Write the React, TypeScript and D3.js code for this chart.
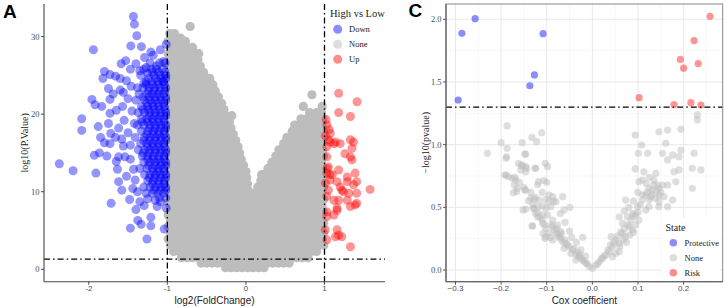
import React from "react";
import * as d3 from "d3";

// ---------- Panel A data (log2FC, -log10 p) ----------
const xTicksA = [-2, -1, 0, 1];
const yTicksA = [0, 10, 20, 30];
const fcCut = [-1, 1];
const pCut = 1.3;

const greyRowsA: [number, number[]][] = [
  [31.3, [-0.71]],
  [30.4, [-0.97, -0.91]],
  [29.8, [-0.83]],
  [29.4, [-0.99, -0.93, -0.87, -0.77]],
  [28.6, [-0.96, -0.89, -0.82, -0.75, -0.68]],
  [27.8, [-0.99, -0.92, -0.85, -0.78, -0.71, -0.64, -0.6]],
  [27.0, [-0.96, -0.89, -0.82, -0.75, -0.68, -0.61]],
  [26.2, [-0.99, -0.92, -0.85, -0.78, -0.71, -0.64, -0.58]],
  [25.4, [-0.96, -0.89, -0.82, -0.75, -0.68, -0.61, -0.54]],
  [24.6, [-0.99, -0.92, -0.85, -0.78, -0.71, -0.64, -0.57, -0.5, -0.46]],
  [23.8, [-0.96, -0.89, -0.82, -0.75, -0.68, -0.61, -0.54, -0.47, -0.42]],
  [23.0, [-0.99, -0.92, -0.85, -0.78, -0.71, -0.64, -0.57, -0.5, -0.43, -0.39]],
  [22.2, [-0.96, -0.89, -0.82, -0.75, -0.68, -0.61, -0.54, -0.47, -0.4, -0.35]],
  [21.4, [-0.99, -0.92, -0.85, -0.78, -0.71, -0.64, -0.57, -0.5, -0.43, -0.36, -0.31]],
  [20.6, [-0.96, -0.89, -0.82, -0.75, -0.68, -0.61, -0.54, -0.47, -0.4, -0.33, -0.28]],
  [19.8, [-0.99, -0.92, -0.85, -0.78, -0.71, -0.64, -0.57, -0.5, -0.43, -0.36, -0.29, -0.25, -0.18]],
  [19.0, [-0.96, -0.89, -0.82, -0.75, -0.68, -0.61, -0.54, -0.47, -0.4, -0.33, -0.26, -0.21]],
  [18.2, [-0.99, -0.92, -0.85, -0.78, -0.71, -0.64, -0.57, -0.5, -0.43, -0.36, -0.29, -0.22, -0.19]],
  [17.4, [-0.96, -0.89, -0.82, -0.75, -0.68, -0.61, -0.54, -0.47, -0.4, -0.33, -0.26, -0.19, -0.16]],
  [16.6, [-0.99, -0.92, -0.85, -0.78, -0.71, -0.64, -0.57, -0.5, -0.43, -0.36, -0.29, -0.22, -0.15, -0.13]],
  [15.8, [-0.96, -0.89, -0.82, -0.75, -0.68, -0.61, -0.54, -0.47, -0.4, -0.33, -0.26, -0.19, -0.12, -0.1]],
  [15.0, [-0.99, -0.92, -0.85, -0.78, -0.71, -0.64, -0.57, -0.5, -0.43, -0.36, -0.29, -0.22, -0.15, -0.08]],
  [14.2, [-0.96, -0.89, -0.82, -0.75, -0.68, -0.61, -0.54, -0.47, -0.4, -0.33, -0.26, -0.19, -0.12, -0.06]],
  [13.4, [-0.99, -0.92, -0.85, -0.78, -0.71, -0.64, -0.57, -0.5, -0.43, -0.36, -0.29, -0.22, -0.15, -0.08, -0.03]],
  [12.6, [-0.96, -0.89, -0.82, -0.75, -0.68, -0.61, -0.54, -0.47, -0.4, -0.33, -0.26, -0.19, -0.12, -0.05, 0.0]],
  [11.8, [-0.99, -0.92, -0.85, -0.78, -0.71, -0.64, -0.57, -0.5, -0.43, -0.36, -0.29, -0.22, -0.15, -0.08, -0.02, 0.01]],
  [11.0, [-0.96, -0.89, -0.82, -0.75, -0.68, -0.61, -0.54, -0.47, -0.4, -0.33, -0.26, -0.19, -0.12, -0.05, 0.02]],
  [10.2, [-0.99, -0.92, -0.85, -0.78, -0.71, -0.64, -0.57, -0.5, -0.43, -0.36, -0.29, -0.22, -0.15, -0.08, -0.02, 0.03]],
  [9.4, [-0.96, -0.89, -0.82, -0.75, -0.68, -0.61, -0.54, -0.47, -0.4, -0.33, -0.26, -0.19, -0.12, -0.05, 0.03]],
  [8.6, [-0.99, -0.92, -0.85, -0.78, -0.71, -0.64, -0.57, -0.5, -0.43, -0.36, -0.29, -0.22, -0.15, -0.08, -0.02, 0.04]],
  [7.8, [-0.96, -0.89, -0.82, -0.75, -0.68, -0.61, -0.54, -0.47, -0.4, -0.33, -0.26, -0.19, -0.12, -0.05, 0.02, 0.05]],
  [7.0, [-0.99, -0.92, -0.85, -0.78, -0.71, -0.64, -0.57, -0.5, -0.43, -0.36, -0.29, -0.22, -0.15, -0.08, -0.02, 0.05]],
  [6.2, [-0.96, -0.89, -0.82, -0.75, -0.68, -0.61, -0.54, -0.47, -0.4, -0.33, -0.26, -0.19, -0.12, -0.05, 0.02, 0.06]],
  [22.5, [0.84]],
  [21.0, [0.73, 0.97]],
  [20.2, [0.81, 0.9, 0.96]],
  [19.4, [0.7, 0.77, 0.84, 0.91, 0.98]],
  [18.6, [0.62, 0.69, 0.76, 0.83, 0.9, 0.97]],
  [17.8, [0.59, 0.66, 0.73, 0.8, 0.87, 0.94, 0.99]],
  [17.0, [0.52, 0.59, 0.66, 0.73, 0.8, 0.87, 0.94, 0.99]],
  [16.2, [0.48, 0.55, 0.62, 0.69, 0.76, 0.83, 0.9, 0.97]],
  [15.4, [0.42, 0.49, 0.56, 0.63, 0.7, 0.77, 0.84, 0.91, 0.98]],
  [14.6, [0.38, 0.45, 0.52, 0.59, 0.66, 0.73, 0.8, 0.87, 0.94, 0.99]],
  [13.8, [0.33, 0.4, 0.47, 0.54, 0.61, 0.68, 0.75, 0.82, 0.89, 0.96]],
  [13.0, [0.28, 0.35, 0.42, 0.49, 0.56, 0.63, 0.7, 0.77, 0.84, 0.91, 0.98]],
  [12.2, [0.2, 0.23, 0.3, 0.37, 0.44, 0.51, 0.58, 0.65, 0.72, 0.79, 0.86, 0.93, 0.99]],
  [11.4, [0.19, 0.26, 0.33, 0.4, 0.47, 0.54, 0.61, 0.68, 0.75, 0.82, 0.89, 0.96]],
  [10.6, [0.15, 0.22, 0.29, 0.36, 0.43, 0.5, 0.57, 0.64, 0.71, 0.78, 0.85, 0.92, 0.99]],
  [9.8, [0.12, 0.19, 0.26, 0.33, 0.4, 0.47, 0.54, 0.61, 0.68, 0.75, 0.82, 0.89, 0.96]],
  [9.0, [0.1, 0.16, 0.23, 0.3, 0.37, 0.44, 0.51, 0.58, 0.65, 0.72, 0.79, 0.86, 0.93, 0.99]],
  [8.2, [0.09, 0.14, 0.21, 0.28, 0.35, 0.42, 0.49, 0.56, 0.63, 0.7, 0.77, 0.84, 0.91, 0.97]],
  [7.4, [0.08, 0.15, 0.22, 0.29, 0.36, 0.43, 0.5, 0.57, 0.64, 0.71, 0.78, 0.85, 0.92, 0.99]],
  [6.6, [0.07, 0.12, 0.19, 0.26, 0.33, 0.4, 0.47, 0.54, 0.61, 0.68, 0.75, 0.82, 0.89, 0.96]],
  [6.0, [0.09, 0.16, 0.23, 0.3, 0.37, 0.44, 0.51, 0.58, 0.65, 0.72, 0.79, 0.86, 0.93, 0.99]],
  [5.5, [-0.99, -0.92, -0.85, -0.78, -0.71, -0.64, -0.57, -0.5, -0.43, -0.36, -0.29, -0.22, -0.15, -0.08, -0.01, 0.06, 0.13, 0.2, 0.27, 0.34, 0.41, 0.48, 0.55, 0.62, 0.69, 0.76, 0.83, 0.9, 0.97]],
  [4.7, [-0.96, -0.89, -0.82, -0.75, -0.68, -0.61, -0.54, -0.47, -0.4, -0.33, -0.26, -0.19, -0.12, -0.05, 0.02, 0.09, 0.16, 0.23, 0.3, 0.37, 0.44, 0.51, 0.58, 0.65, 0.72, 0.79, 0.86, 0.93, 0.99]],
  [3.9, [-0.99, -0.92, -0.85, -0.78, -0.71, -0.64, -0.57, -0.5, -0.43, -0.36, -0.29, -0.22, -0.15, -0.08, -0.01, 0.06, 0.13, 0.2, 0.27, 0.34, 0.41, 0.48, 0.55, 0.62, 0.69, 0.76, 0.83, 0.9, 0.97]],
  [3.1, [-0.96, -0.89, -0.82, -0.75, -0.68, -0.61, -0.54, -0.47, -0.4, -0.33, -0.26, -0.19, -0.12, -0.05, 0.02, 0.09, 0.16, 0.23, 0.3, 0.37, 0.44, 0.51, 0.58, 0.65, 0.72, 0.79, 0.86, 0.93, 0.99]],
  [2.3, [-0.92, -0.85, -0.78, -0.71, -0.64, -0.57, -0.5, -0.43, -0.36, -0.29, -0.22, -0.15, -0.08, -0.01, 0.06, 0.13, 0.2, 0.27, 0.34, 0.41, 0.48, 0.55, 0.62, 0.69, 0.76, 0.83, 0.9]],
  [1.5, [-0.82, -0.75, -0.68, -0.61, -0.54, -0.47, -0.4, -0.33, -0.26, -0.19, -0.12, -0.05, 0.02, 0.09, 0.16, 0.23, 0.3, 0.37, 0.44, 0.51, 0.58, 0.65, 0.72, 0.79]],
  [0.8, [-0.57, -0.5, -0.43, -0.36, -0.29, -0.22, -0.15, -0.08, -0.01, 0.06, 0.13, 0.2, 0.27, 0.34, 0.41, 0.48, 0.55]],
  [0.2, [-0.26, -0.19, -0.12, -0.05, 0.02, 0.09, 0.16, 0.23]],
];

const blueA: [number, number][] = [
  [-1.432, 32.6], [-1.419, 31.6], [-1.389, 30.1], [-1.465, 28.8], [-1.941, 28.3], [-1.015, 29.0],
  [-1.21, 28.0], [-1.29, 27.3], [-1.588, 26.5], [-1.05, 26.8], [-1.8, 25.5], [-1.73, 25.1],
  [-1.66, 24.9], [-1.6, 24.6], [-1.82, 24.6], [-1.52, 24.3], [-1.46, 23.6], [-1.38, 23.4],
  [-1.3, 24.0], [-1.25, 25.3], [-1.2, 25.8], [-1.27, 26.0], [-1.14, 26.2], [-1.96, 21.9],
  [-1.92, 21.2], [-1.835, 21.0], [-1.73, 21.9], [-1.69, 22.6], [-2.09, 19.4], [-2.09, 17.9],
  [-1.88, 18.4], [-1.75, 18.8], [-1.73, 20.1], [-1.65, 20.5], [-1.57, 21.0], [-1.6, 23.1],
  [-1.75, 23.3], [-2.375, 13.6], [-2.2, 12.7], [-1.91, 12.4], [-1.93, 14.7], [-1.865, 15.0],
  [-1.77, 14.6], [-1.65, 13.9], [-1.635, 12.9], [-1.62, 14.5], [-1.54, 14.5], [-1.56, 15.9],
  [-1.47, 16.0], [-1.73, 16.2], [-1.72, 17.5], [-1.58, 10.2], [-1.716, 8.5], [-1.41, 11.5],
  [-1.43, 12.9], [-1.47, 5.3], [-1.376, 6.3], [-1.334, 5.8], [-1.26, 3.9], [-1.21, 6.7],
  [-1.21, 5.6], [-1.4, 7.7], [-1.35, 8.7], [-1.295, 8.2], [-1.25, 9.1], [-1.04, 5.2],
  [-1.015, 7.9], [-1.13, 8.1], [-1.155, 8.9], [-1.09, 8.7], [-1.62, 18.2], [-1.55, 19.2],
  [-1.5, 17.6], [-1.45, 20.4], [-1.5, 22.0], [-1.42, 18.8], [-1.58, 16.8], [-1.66, 17.0],
  [-1.8, 16.3], [-1.47, 14.2], [-1.52, 12.0], [-1.44, 10.4], [-1.48, 9.0], [-1.38, 10.0],
  [-1.62, 11.3], [-1.85, 17.0], [-1.4, 26.5], [-1.35, 25.6], [-1.47, 25.8], [-1.53, 26.9],
  [-1.18, 27.6], [-1.09, 28.3], [-1.33, 28.7], [-1.05, 24.2], [-1.56, 22.8],
];

const blueRowsA: [number, number[]][] = [
  [26.6, [-1.03, -1.1, -1.22]],
  [25.8, [-1.06, -1.14, -1.3]],
  [25.0, [-1.02, -1.09, -1.17, -1.34]],
  [24.2, [-1.05, -1.12, -1.2, -1.27]],
  [23.4, [-1.02, -1.09, -1.16, -1.23, -1.31]],
  [22.6, [-1.05, -1.12, -1.19, -1.26, -1.36]],
  [21.8, [-1.02, -1.08, -1.15, -1.22, -1.29, -1.4]],
  [21.0, [-1.04, -1.11, -1.18, -1.25, -1.33]],
  [20.2, [-1.02, -1.08, -1.15, -1.22, -1.29, -1.37]],
  [19.4, [-1.05, -1.12, -1.19, -1.26, -1.33]],
  [18.6, [-1.02, -1.08, -1.15, -1.22, -1.3, -1.38]],
  [17.8, [-1.04, -1.11, -1.18, -1.25, -1.33]],
  [17.0, [-1.02, -1.08, -1.15, -1.22, -1.29, -1.41]],
  [16.2, [-1.05, -1.12, -1.19, -1.26, -1.34]],
  [15.4, [-1.02, -1.08, -1.15, -1.22, -1.29, -1.37]],
  [14.6, [-1.04, -1.11, -1.18, -1.25, -1.32]],
  [13.8, [-1.02, -1.08, -1.15, -1.22, -1.3]],
  [13.0, [-1.05, -1.12, -1.19, -1.26, -1.35]],
  [12.2, [-1.02, -1.08, -1.15, -1.22, -1.29]],
  [11.4, [-1.04, -1.11, -1.18, -1.25]],
  [10.6, [-1.02, -1.08, -1.15, -1.22, -1.3]],
  [9.8, [-1.05, -1.12, -1.19, -1.27]],
  [9.2, [-1.02, -1.1]],
  [25.4, [-1.03, -1.11, -1.19]],
  [24.6, [-1.02, -1.08, -1.15, -1.24]],
  [23.8, [-1.04, -1.12, -1.19, -1.27]],
  [23.0, [-1.03, -1.1, -1.17, -1.24]],
  [22.2, [-1.02, -1.09, -1.16, -1.23, -1.31]],
  [21.4, [-1.05, -1.12, -1.19, -1.26]],
  [20.6, [-1.03, -1.1, -1.17, -1.24, -1.31]],
  [19.8, [-1.02, -1.09, -1.16, -1.23]],
  [19.0, [-1.04, -1.11, -1.18, -1.25, -1.32]],
  [18.2, [-1.02, -1.09, -1.16, -1.23]],
  [17.4, [-1.04, -1.11, -1.18, -1.26]],
  [16.6, [-1.02, -1.09, -1.16, -1.23, -1.3]],
  [15.8, [-1.04, -1.11, -1.18, -1.25]],
  [15.0, [-1.02, -1.09, -1.16, -1.23, -1.31]],
  [14.2, [-1.04, -1.11, -1.18, -1.25]],
  [13.4, [-1.02, -1.09, -1.16, -1.24]],
  [12.6, [-1.04, -1.11, -1.18]],
  [11.8, [-1.02, -1.09, -1.16, -1.23]],
  [11.0, [-1.04, -1.11, -1.19]],
  [10.2, [-1.02, -1.09, -1.17]],
];

const redA: [number, number][] = [
  [1.18, 22.7], [1.414, 21.6], [1.18, 20.2], [1.33, 19.7], [1.03, 18.6], [1.074, 17.5],
  [1.05, 16.7], [1.03, 15.8], [1.14, 16.4], [1.2, 16.2], [1.33, 16.7], [1.37, 16.4],
  [1.35, 15.6], [1.33, 14.5], [1.35, 14.1], [1.03, 14.5], [1.05, 13.2], [1.03, 12.4],
  [1.1, 12.2], [1.07, 11.5], [1.16, 11.3], [1.2, 10.6], [1.22, 10.2], [1.24, 10.0],
  [1.29, 11.3], [1.31, 9.8], [1.37, 10.9], [1.41, 11.3], [1.03, 9.4], [1.12, 8.9],
  [1.16, 7.9], [1.03, 7.4], [1.18, 8.9], [1.29, 8.9], [1.33, 8.1], [1.41, 8.5],
  [1.12, 7.0], [1.16, 5.1], [1.22, 4.2], [1.14, 4.2], [1.33, 2.9], [1.03, 3.8],
  [1.58, 10.3], [1.18, 12.8], [1.26, 14.9], [1.39, 12.4], [1.29, 11.9], [1.41, 9.8],
  [1.39, 8.3], [1.16, 7.6], [1.03, 6.8], [1.01, 5.1], [1.18, 4.4], [1.01, 11.1],
  [1.05, 10.2], [1.07, 16.4], [1.12, 16.2], [1.01, 17.2], [1.02, 19.3], [1.06, 18.0],
  [1.03, 13.0], [1.07, 12.2],
];

// ---------- Panel C data (Cox coefficient, -log10 p) ----------
const xTicksC = [-0.3, -0.2, -0.1, 0.0, 0.1, 0.2];
const yTicksC = [0.0, 0.5, 1.0, 1.5, 2.0];
const xMinorC = [-0.25, -0.15, -0.05, 0.05, 0.15, 0.25];
const yMinorC = [0.25, 0.75, 1.25, 1.75];

const protectiveC: [number, number][] = [
  [-0.294, 1.356], [-0.286, 1.888], [-0.257, 2.005], [-0.137, 1.47], [-0.127, 1.556], [-0.108, 1.885],
];
const riskC: [number, number][] = [
  [0.1025, 1.375], [0.179, 1.32], [0.193, 1.68], [0.2, 1.61], [0.216, 1.335],
  [0.223, 1.83], [0.232, 1.646], [0.238, 1.316], [0.258, 2.024],
];
const noneC: [number, number][] = [
  [-0.187, 1.149], [-0.2, 1.016], [-0.23, 0.931], [-0.187, 0.971], [-0.189, 0.891], [-0.154, 1.016],
  [-0.1325, 1.059], [-0.122, 1.024], [-0.111, 1.095], [-0.146, 0.925], [-0.162, 0.851], [-0.154, 0.83],
  [-0.146, 0.824], [-0.157, 0.798], [-0.146, 0.784], [-0.189, 0.758], [-0.175, 0.731], [-0.168, 0.718],
  [-0.124, 0.811], [-0.103, 0.851], [-0.098, 0.824], [-0.118, 0.705], [-0.106, 0.713], [-0.171, 0.678],
  [-0.164, 0.652], [-0.146, 0.638], [-0.173, 0.617], [-0.135, 0.572], [-0.127, 0.564], [-0.117, 0.558],
  [-0.102, 0.564], [-0.095, 0.545], [-0.087, 0.585], [-0.065, 0.585], [-0.08, 0.545], [-0.109, 0.511],
  [-0.102, 0.492], [-0.091, 0.505], [-0.146, 0.484], [-0.127, 0.492], [-0.125, 0.452], [-0.12, 0.425],
  [-0.109, 0.439], [-0.098, 0.439], [-0.087, 0.399], [-0.062, 0.479], [-0.049, 0.5], [-0.131, 0.351],
  [-0.109, 0.373], [-0.102, 0.333], [-0.087, 0.346], [-0.076, 0.359], [-0.095, 0.293], [-0.08, 0.293],
  [-0.069, 0.306], [-0.102, 0.266], [-0.087, 0.239], [-0.073, 0.266], [-0.065, 0.226], [-0.058, 0.213],
  [-0.051, 0.186], [-0.062, 0.173], [-0.043, 0.16], [-0.047, 0.133], [-0.036, 0.12], [-0.029, 0.106],
  [-0.036, 0.08], [-0.025, 0.093], [-0.021, 0.08], [-0.021, 0.261], [-0.014, 0.053], [-0.007, 0.027],
  [0.0, 0.013], [0.008, 0.04], [0.015, 0.066], [0.022, 0.093], [0.03, 0.12], [0.037, 0.146],
  [-0.188, 0.904], [-0.148, 0.925], [-0.192, 0.758], [-0.184, 0.744], [-0.155, 0.838], [-0.144, 0.811],
  [-0.126, 0.811], [-0.166, 0.625], [-0.148, 0.638], [-0.152, 0.479], [-0.13, 0.492], [-0.119, 0.505],
  [-0.132, 0.351], [-0.108, 0.293], [-0.104, 0.252],
  [-0.04, 0.17], [-0.033, 0.14], [-0.028, 0.12], [-0.018, 0.07], [-0.011, 0.05], [-0.055, 0.2],
  [-0.06, 0.24], [-0.07, 0.25], [-0.075, 0.28], [-0.083, 0.32], [-0.09, 0.36], [-0.078, 0.33],
  [-0.068, 0.29], [-0.092, 0.26], [-0.11, 0.4], [-0.105, 0.36], [-0.115, 0.42], [-0.12, 0.46],
  [-0.13, 0.52], [-0.14, 0.55], [-0.125, 0.58], [-0.11, 0.62], [-0.095, 0.6], [-0.135, 0.62],
  [-0.15, 0.66], [-0.16, 0.7], [-0.17, 0.74], [-0.12, 0.68], [-0.1, 0.7], [-0.085, 0.55],
  [-0.07, 0.45], [-0.06, 0.38], [-0.05, 0.31], [-0.045, 0.26], [-0.035, 0.22], [-0.025, 0.16],
  [-0.015, 0.11],
  [0.044, 0.186], [0.051, 0.239], [0.059, 0.213], [0.066, 0.293], [0.073, 0.266], [0.081, 0.346],
  [0.088, 0.319], [0.077, 0.425], [0.088, 0.452], [0.099, 0.505], [0.095, 0.439], [0.102, 0.399],
  [0.11, 0.558], [0.117, 0.479], [0.073, 0.558], [0.059, 0.425], [0.066, 0.373], [0.051, 0.133],
  [0.041, 0.266], [0.044, 0.106], [0.059, 0.146],
  [0.094, 1.077], [0.108, 0.997], [0.101, 0.931], [0.121, 0.931], [0.094, 0.806], [0.113, 0.784],
  [0.11, 0.718], [0.102, 0.705], [0.139, 0.771], [0.135, 0.718], [0.143, 0.678], [0.146, 0.652],
  [0.154, 0.678], [0.124, 0.652], [0.131, 0.638], [0.117, 0.598], [0.128, 0.585], [0.139, 0.572],
  [0.146, 0.598], [0.165, 0.678], [0.157, 0.585], [0.146, 0.545], [0.124, 0.505], [0.146, 0.505],
  [0.165, 0.505], [0.176, 0.558], [0.183, 0.705], [0.179, 0.784], [0.19, 0.798], [0.146, 1.103],
  [0.165, 1.117], [0.194, 1.122], [0.161, 1.011], [0.154, 0.931], [0.165, 0.878], [0.176, 0.918],
  [0.194, 0.957], [0.19, 0.904], [0.223, 0.931], [0.219, 0.811], [0.238, 0.798], [0.219, 0.652],
  [0.23, 1.237], [0.23, 1.197],
  [0.012, 0.05], [0.02, 0.09], [0.026, 0.11], [0.034, 0.16], [0.04, 0.2], [0.047, 0.22],
  [0.055, 0.27], [0.062, 0.3], [0.07, 0.33], [0.078, 0.36], [0.085, 0.4], [0.09, 0.43],
  [0.06, 0.19], [0.068, 0.24], [0.075, 0.22], [0.082, 0.28], [0.09, 0.3], [0.095, 0.36],
  [0.1, 0.46], [0.105, 0.52], [0.11, 0.6], [0.1, 0.62], [0.09, 0.55], [0.08, 0.5],
  [0.07, 0.47], [0.12, 0.62], [0.125, 0.56], [0.13, 0.6], [0.135, 0.68], [0.14, 0.63],
  [0.15, 0.62], [0.118, 0.69], [0.125, 0.74],
];

const legendA = [
  { label: "Down", color: "blue" },
  { label: "None", color: "#bebebe" },
  { label: "Up", color: "red" },
];
const legendC = [
  { label: "Protective", color: "blue" },
  { label: "None", color: "#bebebe" },
  { label: "Risk", color: "red" },
];

const SERIF = "'Liberation Serif', 'DejaVu Serif', serif";
const SANS = "'Liberation Sans', Arial, sans-serif";
const DASH = "6,3,1.6,3";

export default function App() {
  const xA = d3.scaleLinear().domain([-2.57, 1.77]).range([44, 385]);
  const yA = d3.scaleLinear().domain([-1.6, 34.2]).range([281.7, 4]);
  const xC = d3.scaleLinear().domain([-0.3208, 0.2857]).range([446, 722.7]);
  const yC = d3.scaleLinear().domain([-0.0933, 2.122]).range([281.7, 4]);

  const greyPtsA = greyRowsA.flatMap(([y, xs]) => xs.map((x) => [x, y] as [number, number]));
  const bluePtsA = [...blueA, ...blueRowsA.flatMap(([y, xs]) => xs.map((x) => [x, y] as [number, number]))];

  const [ax0, ax1] = xA.range();
  const [ay0, ay1] = yA.range();
  const [cx0, cx1] = xC.range();
  const [cy0, cy1] = yC.range();
  const fmtC = d3.format(".1f");

  return (
    <svg width={727} height={307} style={{ position: "absolute", left: 0, top: 0, display: "block" }}>
      <rect x={0} y={0} width={727} height={307} fill="#fff" />

      {/* ---------- Panel A ---------- */}
      <g>
        <g opacity={0.88}>
          {greyPtsA.map(([x, y], i) => (
            <circle key={"ga" + i} cx={xA(x)} cy={yA(y)} r={4.6} fill="#b4b4b4" />
          ))}
        </g>
        {bluePtsA.map(([x, y], i) => (
          <circle key={"ba" + i} cx={xA(x)} cy={yA(y)} r={4.5} fill="blue" fillOpacity={0.42} />
        ))}
        {redA.map(([x, y], i) => (
          <circle key={"ra" + i} cx={xA(x)} cy={yA(y)} r={4.5} fill="red" fillOpacity={0.42} />
        ))}
        {fcCut.map((v) => (
          <line key={"v" + v} x1={xA(v)} x2={xA(v)} y1={ay1} y2={ay0} stroke="#000" strokeWidth={1.3} strokeDasharray={DASH} />
        ))}
        <line x1={ax0} x2={ax1} y1={yA(pCut)} y2={yA(pCut)} stroke="#000" strokeWidth={1.3} strokeDasharray={DASH} />
        {/* axes */}
        <line x1={ax0} x2={ax0} y1={ay1} y2={ay0} stroke="#444" strokeWidth={1.1} />
        <line x1={ax0} x2={ax1} y1={ay0} y2={ay0} stroke="#444" strokeWidth={1.1} />
        {yTicksA.map((t) => (
          <g key={"yta" + t}>
            <line x1={ax0 - 3} x2={ax0} y1={yA(t)} y2={yA(t)} stroke="#444" strokeWidth={1} />
            <text x={ax0 - 4.5} y={yA(t) + 3} textAnchor="end" fontFamily={SERIF} fontSize={8.5} fill="#4d4d4d">{t}</text>
          </g>
        ))}
        {xTicksA.map((t) => (
          <g key={"xta" + t}>
            <line x1={xA(t)} x2={xA(t)} y1={ay0} y2={ay0 + 3} stroke="#444" strokeWidth={1} />
            <text x={xA(t)} y={ay0 + 9.6} textAnchor="middle" fontFamily={SANS} fontSize={8} fill="#4d4d4d">{t}</text>
          </g>
        ))}
        <text x={(ax0 + ax1) / 2} y={304} textAnchor="middle" fontFamily={SANS} fontSize={10} fill="#222">log2(FoldChange)</text>
        <text transform={`translate(28,${(ay0 + ay1) / 2}) rotate(-90)`} textAnchor="middle" fontFamily={SERIF} fontSize={10} fill="#222">log10(P.Value)</text>
        {/* legend */}
        <text x={330} y={17} fontFamily={SERIF} fontSize={10.5} fill="#222">High vs Low</text>
        {legendA.map((d, i) => (
          <g key={"la" + i}>
            <circle cx={337.7} cy={29.3 + i * 15} r={4.5} fill={d.color} fillOpacity={d.color === "#bebebe" ? 0.5 : 0.45} />
            <text x={349} y={32.3 + i * 15} fontFamily={SERIF} fontSize={8.5} fill="#222">{d.label}</text>
          </g>
        ))}
        <text x={3} y={17.5} fontFamily={SANS} fontWeight="bold" fontSize={19} fill="#000">A</text>
      </g>

      {/* ---------- Panel C ---------- */}
      <g>
        {xMinorC.map((t) => (
          <line key={"xmc" + t} x1={xC(t)} x2={xC(t)} y1={cy1} y2={cy0} stroke="#f2f2f2" strokeWidth={0.6} />
        ))}
        {yMinorC.map((t) => (
          <line key={"ymc" + t} x1={cx0} x2={cx1} y1={yC(t)} y2={yC(t)} stroke="#f2f2f2" strokeWidth={0.6} />
        ))}
        {xTicksC.map((t) => (
          <line key={"xgc" + t} x1={xC(t)} x2={xC(t)} y1={cy1} y2={cy0} stroke="#e6e6e6" strokeWidth={0.9} />
        ))}
        {yTicksC.map((t) => (
          <line key={"ygc" + t} x1={cx0} x2={cx1} y1={yC(t)} y2={yC(t)} stroke="#e6e6e6" strokeWidth={0.9} />
        ))}
        {noneC.map(([x, y], i) => (
          <circle key={"gc" + i} cx={xC(x)} cy={yC(y)} r={3.6} fill="#bebebe" fillOpacity={0.5} />
        ))}
        {protectiveC.map(([x, y], i) => (
          <circle key={"pc" + i} cx={xC(x)} cy={yC(y)} r={3.6} fill="blue" fillOpacity={0.45} />
        ))}
        {riskC.map(([x, y], i) => (
          <circle key={"rc" + i} cx={xC(x)} cy={yC(y)} r={3.6} fill="red" fillOpacity={0.42} />
        ))}
        <line x1={cx0} x2={cx1} y1={yC(pCut)} y2={yC(pCut)} stroke="#000" strokeWidth={1.3} strokeDasharray={DASH} />
        <rect x={cx0} y={cy1} width={cx1 - cx0} height={cy0 - cy1} fill="none" stroke="#888" strokeWidth={1} />
        <line x1={cx0} x2={cx0} y1={cy1} y2={cy0} stroke="#555" strokeWidth={1.1} />
        <line x1={cx0} x2={cx1} y1={cy0} y2={cy0} stroke="#555" strokeWidth={1.1} />
        {yTicksC.map((t) => (
          <g key={"ytc" + t}>
            <line x1={cx0 - 3} x2={cx0} y1={yC(t)} y2={yC(t)} stroke="#555" strokeWidth={1} />
            <text x={cx0 - 4.5} y={yC(t) + 3} textAnchor="end" fontFamily={SERIF} fontSize={8.5} fill="#4d4d4d">{fmtC(t)}</text>
          </g>
        ))}
        {xTicksC.map((t) => (
          <g key={"xtc" + t}>
            <line x1={xC(t)} x2={xC(t)} y1={cy0} y2={cy0 + 3} stroke="#555" strokeWidth={1} />
            <text x={xC(t)} y={cy0 + 9.6} textAnchor="middle" fontFamily={SANS} fontSize={8} fill="#4d4d4d">{fmtC(t)}</text>
          </g>
        ))}
        <text x={(cx0 + cx1) / 2} y={304} textAnchor="middle" fontFamily={SANS} fontSize={10} fill="#222">Cox coefficient</text>
        <text transform={`translate(429,${(cy0 + cy1) / 2}) rotate(-90)`} textAnchor="middle" fontFamily={SERIF} fontSize={10} fill="#222">−log10(pvalue)</text>
        {/* legend */}
        <rect x={662} y={218} width={58} height={62} fill="#fff" />
        <text x={665.5} y={230.5} fontFamily={SERIF} fontSize={10} fill="#222">State</text>
        {legendC.map((d, i) => (
          <g key={"lc" + i}>
            <circle cx={673.3} cy={242.7 + i * 15} r={3.8} fill={d.color} fillOpacity={d.color === "#bebebe" ? 0.5 : 0.45} />
            <text x={684.5} y={245.7 + i * 15} fontFamily={SERIF} fontSize={8.5} fill="#222">{d.label}</text>
          </g>
        ))}
        <text x={408.5} y={17} fontFamily={SANS} fontWeight="bold" fontSize={19} fill="#000">C</text>
      </g>
    </svg>
  );
}
